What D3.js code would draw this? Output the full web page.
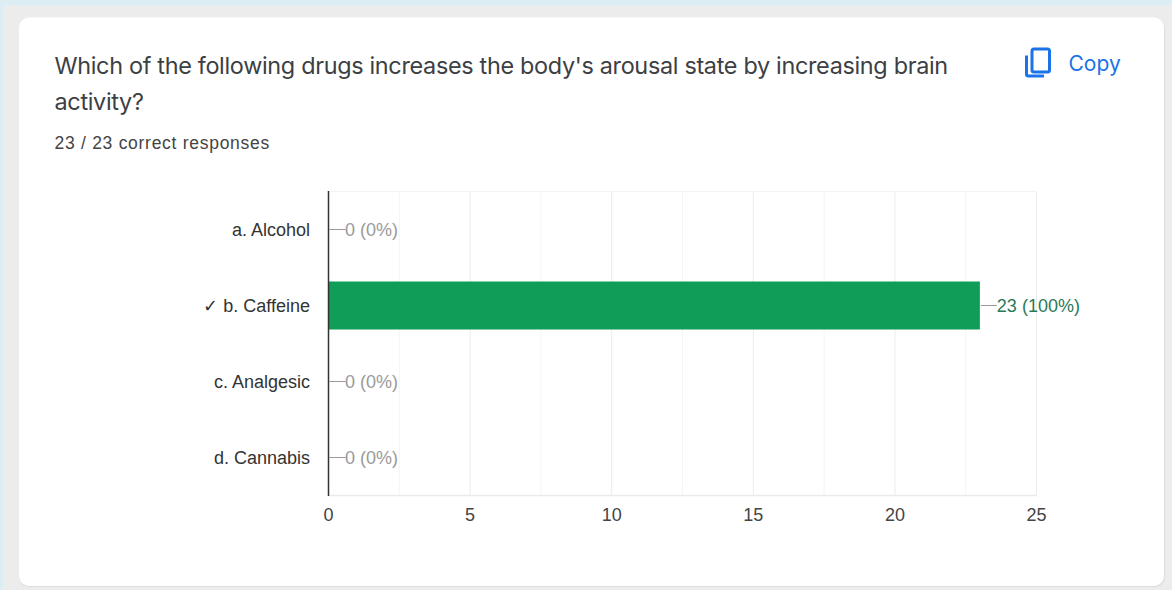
<!DOCTYPE html>
<html><head><meta charset="utf-8">
<script src="https://cdn.jsdelivr.net/npm/d3@7/dist/d3.min.js"></script>
<style>html,body{margin:0;padding:0;background:#ececec;overflow:hidden}svg{display:block}text{font-family:"Liberation Sans",Arial,sans-serif}</style>
</head><body><svg id="c" width="1172" height="590"></svg>
<script>
const categories=["a. Alcohol","✓ b. Caffeine","c. Analgesic","d. Cannabis"];
const values=[0,23,0,0];
const percents=["0%","100%","0%","0%"];
const majorTicks=[0,5,10,15,20,25];
const minorTicks=[2.5,7.5,12.5,17.5,22.5];
const titleLines=["Which of the following drugs increases the body's arousal state by increasing brain","activity?"];
const subtitle="23 / 23 correct responses";

const svg=d3.select("#c");
svg.append("rect").attr("width",1172).attr("height",590).attr("fill","#ececec");
svg.append("rect").attr("width",1172).attr("height",5.5).attr("fill","#dcedf3");
svg.append("rect").attr("width",3).attr("height",590).attr("fill","#dcedf3");
svg.append("rect").attr("x",19).attr("y",18.5).attr("width",1146).attr("height",568.5).attr("rx",10).attr("fill","#dddddf");
svg.append("rect").attr("x",19).attr("y",17.5).attr("width",1145).attr("height",568.5).attr("rx",10).attr("fill","#fff");

svg.selectAll("text.t").data(titleLines).join("text").attr("class","t")
 .attr("x",54.5).attr("y",(d,i)=>73.5+i*36).attr("fill","#3c4043")
 .style("font-family","Inter").style("font-size","23.4px").style("letter-spacing","-0.31px").text(d=>d);
svg.append("text").attr("x",54.5).attr("y",149).attr("fill","#444").style("font-size","17.5px").style("letter-spacing","0.72px").text(subtitle);

// copy button
const ic=svg.append("g").attr("fill","none").attr("stroke","#1a73e8").attr("stroke-width",3);
ic.append("rect").attr("x",1032).attr("y",49).attr("width",17.5).attr("height",23).attr("rx",2);
ic.append("path").attr("d","M1026.5 55.5V74a2 2 0 0 0 2 2H1044");
svg.append("text").attr("x",1068.5).attr("y",70.5).attr("fill","#1a73e8").style("font-family","Inter").style("font-size","21px").text("Copy");

const x=d3.scaleLinear().domain([0,25]).range([328.5,1036.5]);
const y=d3.scaleBand().domain(categories).range([191.5,495.5]);
const bw=48;

svg.append("g").selectAll("line").data(minorTicks).join("line").attr("x1",d=>x(d)).attr("x2",d=>x(d)).attr("y1",191.5).attr("y2",495.5).attr("stroke","#f4f4f4");
svg.append("g").selectAll("line").data(majorTicks.slice(1)).join("line").attr("x1",d=>x(d)).attr("x2",d=>x(d)).attr("y1",191.5).attr("y2",495.5).attr("stroke","#ebebeb");
svg.append("line").attr("x1",x(0)).attr("x2",x(25)+.5).attr("y1",191.5).attr("y2",191.5).attr("stroke","#f4f4f4");
svg.append("line").attr("x1",x(0)).attr("x2",x(25)+.5).attr("y1",495.5).attr("y2",495.5).attr("stroke","#ebebeb").attr("stroke-width",1.5);

svg.append("g").selectAll("rect").data(values).join("rect")
 .attr("x",x(0)).attr("width",d=>x(d)-x(0))
 .attr("y",(d,i)=>y(categories[i])+y.bandwidth()/2-bw/2).attr("height",bw).attr("fill","#0f9d58");

// connectors and value labels
svg.append("g").selectAll("line").data(values).join("line")
 .attr("x1",d=>x(d)+1).attr("x2",d=>x(d)+17)
 .attr("y1",(d,i)=>y(categories[i])+y.bandwidth()/2).attr("y2",(d,i)=>y(categories[i])+y.bandwidth()/2)
 .attr("stroke","#999");
svg.append("g").selectAll("text").data(values).join("text")
 .attr("x",d=>x(d)+(d?17:16.5)).attr("y",(d,i)=>y(categories[i])+y.bandwidth()/2+6)
 .attr("fill",d=>d?"#2a7a58":"#9a9a9a").style("font-size","18px")
 .text((d,i)=>`${d} (${percents[i]})`);

// category axis
svg.append("g").selectAll("text").data(categories).join("text")
 .attr("x",310).attr("y",d=>y(d)+y.bandwidth()/2+6).attr("text-anchor","end")
 .attr("fill","#333").style("font-size","18px").text(d=>d);
svg.append("line").attr("x1",x(0)).attr("x2",x(0)).attr("y1",191).attr("y2",496).attr("stroke","#333").attr("stroke-width",1.5);

// value axis
svg.append("g").selectAll("text").data(majorTicks).join("text")
 .attr("x",d=>x(d)).attr("y",521).attr("text-anchor","middle")
 .attr("fill","#444").style("font-size","18px").text(d=>d);
</script></body></html>
